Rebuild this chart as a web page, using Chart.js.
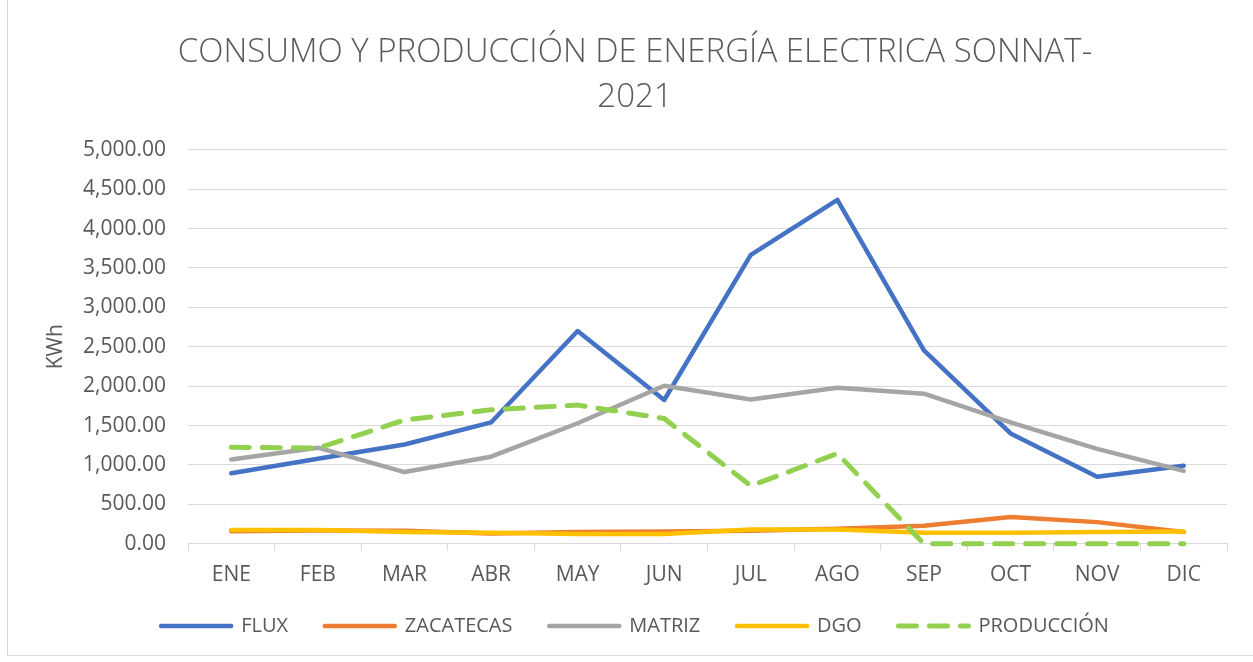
<!DOCTYPE html>
<html>
<head>
<meta charset="utf-8">
<script src="https://cdn.jsdelivr.net/npm/chart.js@4"></script>
<style>
  html, body { margin: 0; padding: 0; background: #fff; }
  #wrap { position: relative; width: 1253px; height: 662px; }
  #frame { position: absolute; left: 7px; top: -1px; width: 1250px; height: 657px; border: 1px solid #d9d9d9; box-sizing: border-box; }
  canvas { position: absolute; left: 0; top: 0; }
</style>
</head>
<body>
<div id="wrap">
  <div id="frame"></div>
  <canvas id="myChart" width="1253" height="662"></canvas>
</div>
<script>
const meses = ['ENE', 'FEB', 'MAR', 'ABR', 'MAY', 'JUN', 'JUL', 'AGO', 'SEP', 'OCT', 'NOV', 'DIC'];

const flux       = [895, 1080, 1260, 1540, 2700, 1825, 3665, 4365, 2455, 1400, 850, 990];
const zacatecas  = [160, 170, 165, 130, 150, 155, 165, 190, 230, 340, 275, 150];
const matriz     = [1070, 1220, 910, 1105, 1530, 2005, 1830, 1980, 1905, 1540, 1205, 925];
const dgo        = [175, 175, 150, 140, 125, 125, 180, 180, 140, 140, 150, 155];
const produccion = [1225, 1215, 1570, 1700, 1760, 1590, 735, 1145, 0, 0, 0, 0];

const tituloLineas = ['CONSUMO Y PRODUCCIÓN DE ENERGÍA ELECTRICA SONNAT-', '2021'];

const gris = '#595959';
const ctx = document.getElementById('myChart').getContext('2d');

function serie(label, data, color, order, extra) {
    return Object.assign({
        label: label,
        data: data,
        borderColor: color,
        backgroundColor: color,
        borderWidth: 4.5,
        pointRadius: 0,
        tension: 0,
        borderJoinStyle: 'round',
        borderCapStyle: 'round',
        fill: false,
        clip: 8,
        order: order
    }, extra || {});
}

const myChart = new Chart(ctx, {
    type: 'line',
    data: {
        labels: meses,
        datasets: [
            serie('FLUX', flux, '#4472C4', 5),
            serie('ZACATECAS', zacatecas, '#ED7D31', 4),
            serie('MATRIZ', matriz, '#A5A5A5', 3),
            serie('DGO', dgo, '#FFC000', 2),
            serie('PRODUCCIÓN', produccion, '#92D050', 1, { borderDash: [18, 13], borderWidth: 5 })
        ]
    },
    options: {
        responsive: false,
        animation: false,
        layout: { padding: { left: 43, right: 26, top: 0, bottom: 16 } },
        plugins: {
            title: {
                display: true,
                text: tituloLineas,
                color: gris,
                font: { family: 'Open Sans', size: 33, weight: 300, lineHeight: 1.36 },
                padding: { top: 30, bottom: 30 }
            },
            legend: {
                position: 'bottom',
                labels: {
                    color: gris,
                    font: { family: 'Open Sans', size: 20 },
                    usePointStyle: true,
                    pointStyle: 'line',
                    pointStyleWidth: 70,
                    boxHeight: 20,
                    padding: 16,
                    sort: (a, b) => a.datasetIndex - b.datasetIndex,
                    generateLabels: chart => Chart.defaults.plugins.legend.labels.generateLabels(chart).map(item => {
                        const ds = chart.data.datasets[item.datasetIndex];
                        item.lineDash = ds.borderDash || [];
                        item.lineWidth = ds.borderWidth;
                        item.lineCap = 'round';
                        // extra space between entries, not after the last one
                        if (item.datasetIndex < chart.data.datasets.length - 1) item.text = item.text + '    ';
                        return item;
                    })
                }
            },
            tooltip: { enabled: false }
        },
        scales: {
            x: {
                offset: true,
                grid: {
                    offset: true,
                    drawOnChartArea: false,
                    color: '#d9d9d9',
                    tickLength: 7
                },
                border: { color: '#d9d9d9' },
                ticks: {
                    color: gris,
                    font: { family: 'Open Sans', size: 21 },
                    padding: 12,
                    maxRotation: 0
                }
            },
            y: {
                min: 0,
                max: 5000,
                afterFit: s => { s.width = 145; },
                grid: { color: '#d9d9d9', drawTicks: false },
                border: { display: false },
                title: {
                    display: true,
                    text: 'KWh',
                    color: gris,
                    font: { family: 'Open Sans', size: 21 },
                    padding: { top: 0, bottom: 0 }
                },
                ticks: {
                    stepSize: 500,
                    color: gris,
                    padding: 22,
                    font: { family: 'Open Sans', size: 21 },
                    callback: v => v.toLocaleString('en-US', { minimumFractionDigits: 2, maximumFractionDigits: 2 })
                }
            }
        }
    }
});
</script>
</body>
</html>
